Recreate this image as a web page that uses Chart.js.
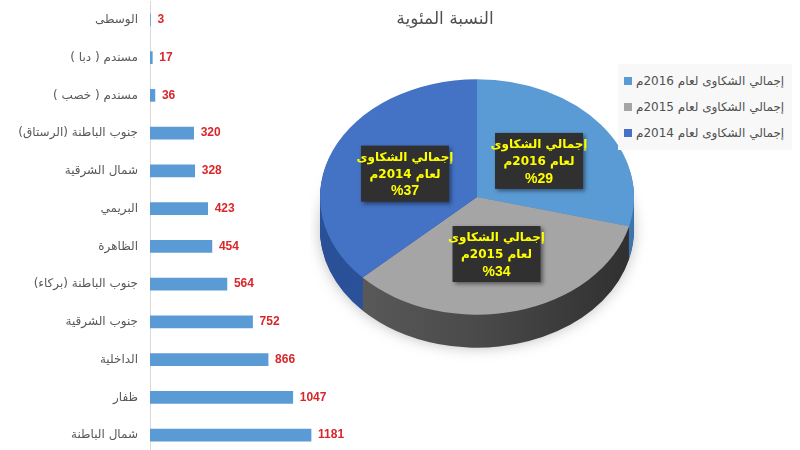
<!DOCTYPE html>
<html lang="ar">
<head>
<meta charset="utf-8">
<script src="https://cdn.jsdelivr.net/npm/chart.js@4.4.0/dist/chart.umd.min.js"></script>
<style>
  body { margin:0; background:#fff; width:800px; height:450px; overflow:hidden; position:relative; font-family:"DejaVu Sans", sans-serif; }
  #barWrap { position:absolute; left:0; top:1px; width:360px; height:453px; }
  #pieWrap { position:absolute; left:310px; top:0; width:490px; height:450px; }
  canvas { direction:rtl; }
  #title { position:absolute; left:345px; top:8px; width:200px; text-align:center; font-size:17px; color:#505050; direction:rtl; }
  #legend { position:absolute; left:618px; top:64px; width:174px; padding:4px 0; background:#f8f8f8; }
  .row { display:flex; align-items:center; height:26px; padding-left:6px; direction:ltr; }
  .mark { width:8px; height:8px; margin-right:4px; }
  .txt { direction:rtl; font-size:12px; color:#505050; white-space:nowrap; }
</style>
</head>
<body>
<div id="barWrap"><canvas id="bars"></canvas></div>
<div id="pieWrap"><canvas id="pie"></canvas></div>
<div id="title">النسبة المئوية</div>
<div id="legend"></div>
<script>
// ===== data =====
const regions = ["الوسطى", "مسندم ( دبا )", "مسندم ( خصب )", "جنوب الباطنة (الرستاق)", "شمال الشرقية", "البريمي",
  "الظاهرة", "جنوب الباطنة (بركاء)", "جنوب الشرقية", "الداخلية", "ظفار", "شمال الباطنة"];
const complaints = [3, 17, 36, 320, 328, 423, 454, 564, 752, 866, 1047, 1181];

const years = ["2016", "2015", "2014"];
const shares = [29, 34, 37];
const yearLabels = years.map(y => "إجمالي الشكاوى لعام " + y + "م");

const topColors = ["#5b9bd5", "#a5a5a5", "#4472c4"];
const sideColors = ["#3f76ad", "#4c4c4c", "#2c5299"];

// ===== bar chart: value labels at bar ends =====
const valueLabels = {
  id: 'valueLabels',
  afterDatasetsDraw(chart) {
    const ctx = chart.ctx;
    ctx.save();
    ctx.font = 'bold 12px "Liberation Sans"';
    ctx.fillStyle = '#d9262b';
    ctx.textAlign = 'left';
    ctx.textBaseline = 'middle';
    chart.getDatasetMeta(0).data.forEach((bar, i) => {
      ctx.fillText(complaints[i], bar.x + 7, bar.y);
    });
    ctx.restore();
  }
};

new Chart(document.getElementById('bars'), {
  type: 'bar',
  data: {
    labels: regions,
    datasets: [{ data: complaints, backgroundColor: '#5b9bd5', barThickness: 12 }]
  },
  options: {
    indexAxis: 'y',
    animation: false,
    responsive: true,
    maintainAspectRatio: false,
    layout: { padding: { right: 30, top: 0, bottom: 0 } },
    plugins: { legend: { display: false }, tooltip: { enabled: false } },
    scales: {
      x: { display: false, min: 0, max: 1320 },
      y: {
        grid: { display: false, drawTicks: false },
        border: { color: '#d9d9d9' },
        ticks: { color: '#595959', padding: 12, font: { size: 12, family: 'DejaVu Sans' } },
        afterFit: s => { s.width = 150; s.paddingTop = 0; s.paddingBottom = 0; }
      }
    }
  },
  plugins: [valueLabels]
});

// ===== pie chart drawn squashed with a side band =====
const depth = 33, squash = 0.75;

const pie3d = {
  id: 'pie3d',
  beforeDatasetsDraw(chart) {
    const ctx = chart.ctx;
    const arcs = chart.getDatasetMeta(0).data;
    const cx = arcs[0].x, cy = arcs[0].y, R = arcs[0].outerRadius;
    for (let d = depth; d > 0; d--) {
      ctx.save();
      if (d === depth) {
        ctx.shadowColor = 'rgba(0,0,0,0.25)';
        ctx.shadowBlur = 14;
      }
      ctx.translate(cx, cy + d);
      ctx.scale(1, squash);
      ctx.translate(-cx, -cy);
      arcs.forEach((a, i) => {
        ctx.beginPath();
        ctx.moveTo(a.x, a.y);
        ctx.arc(a.x, a.y, a.outerRadius, a.startAngle, a.endAngle);
        ctx.closePath();
        if (i === 1) {
          const g = ctx.createLinearGradient(cx - R, 0, cx + R, 0);
          g.addColorStop(0, '#5e5e5e');
          g.addColorStop(0.5, '#4a4a4a');
          g.addColorStop(1, '#2f2f2f');
          ctx.fillStyle = g;
        } else {
          ctx.fillStyle = sideColors[i];
        }
        ctx.fill();
      });
      ctx.restore();
    }
    ctx.save();
    ctx.translate(cx, cy);
    ctx.scale(1, squash);
    ctx.translate(-cx, -cy);
  },
  afterDatasetsDraw(chart) {
    const ctx = chart.ctx;
    ctx.restore();
    const arcs = chart.getDatasetMeta(0).data;
    arcs.forEach((a, i) => {
      const p = a.tooltipPosition();
      const x = p.x, y = a.y + (p.y - a.y) * squash;
      ctx.save();
      ctx.shadowColor = 'rgba(0,0,0,0.45)';
      ctx.shadowBlur = 4;
      ctx.shadowOffsetX = 2;
      ctx.shadowOffsetY = 2;
      ctx.fillStyle = '#303030';
      ctx.fillRect(x - 44, y - 28, 88, 56);
      ctx.restore();
      ctx.save();
      ctx.fillStyle = '#ffff00';
      ctx.textAlign = 'center';
      ctx.textBaseline = 'middle';
      ctx.font = 'bold 12px "DejaVu Sans"';
      ctx.fillText("إجمالي الشكاوى", x, y - 16);
      ctx.fillText("لعام " + years[i] + "م", x, y + 1);
      ctx.font = 'bold 14px "Liberation Sans"';
      ctx.fillText("%" + shares[i], x, y + 18);
      ctx.restore();
    });
  }
};

new Chart(document.getElementById('pie'), {
  type: 'pie',
  data: {
    labels: yearLabels,
    datasets: [{ data: shares, backgroundColor: topColors, borderWidth: 0 }]
  },
  options: {
    animation: false,
    responsive: true,
    maintainAspectRatio: false,
    layout: { padding: { left: 10, right: 166, top: 40, bottom: 96 } },
    plugins: { legend: { display: false }, tooltip: { enabled: false } }
  },
  plugins: [pie3d]
});

// ===== legend =====
const legend = document.getElementById('legend');
yearLabels.forEach((t, i) => {
  const row = document.createElement('div');
  row.className = 'row';
  row.innerHTML = '<span class="mark" style="background:' + topColors[i] + '"></span><span class="txt">' + t + '</span>';
  legend.appendChild(row);
});
</script>
</body>
</html>
